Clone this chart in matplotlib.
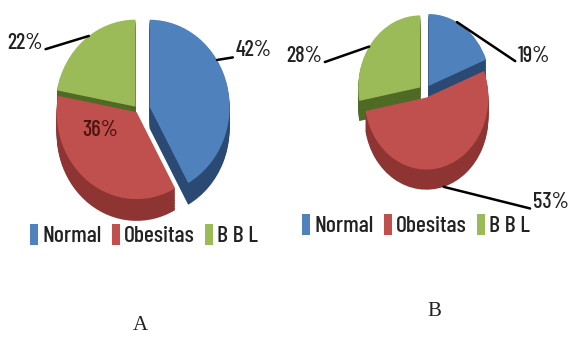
import matplotlib
matplotlib.use('Agg')
import matplotlib.pyplot as plt
from matplotlib.patches import Patch
import numpy as np

# data
labels = ['Normal', 'Obesitas', 'B B L']
values_a = [42, 36, 22]
values_b = [19, 53, 28]
panel_names = ['A', 'B']

top_colors = ['#4F81BD', '#C0504D', '#9BBB59']
side_colors = ['#2A4A74', '#8E3432', '#4F6A25']

W, H = 575, 340
narrow = ['Barlow Condensed', 'Archivo Narrow', 'DejaVu Sans']

fig = plt.figure(figsize=(W / 100, H / 100), dpi=100)

XL = (-1.6, 2.6)
YL = (-1.7, 1.4)


def pie_axes(cx, cy, rx, ry):
    # data radius 1 -> rx / ry pixels around centre (cx, cy), y measured from top
    left = (cx + XL[0] * rx) / W
    bottom = (H - (cy - YL[0] * ry)) / H
    width = (XL[1] - XL[0]) * rx / W
    height = (YL[1] - YL[0]) * ry / H
    ax = fig.add_axes([left, bottom, width, height])
    return ax


def draw_pie(ax, values, explode, depth, steps=14):
    for k in range(steps, 0, -1):
        ax.pie(values, colors=side_colors, startangle=90, counterclock=False,
               explode=explode, center=(0, -depth * k / steps),
               wedgeprops=dict(linewidth=0))
    wedges, _ = ax.pie(values, colors=top_colors, startangle=90,
                       counterclock=False, explode=explode,
                       wedgeprops=dict(linewidth=0))
    ax.set_aspect('auto')
    ax.set_xlim(*XL)
    ax.set_ylim(*YL)
    ax.axis('off')
    return wedges


def anchor(w, depth, frac=0.5):
    # point on the rim of wedge w, frac of the way from theta1 to theta2
    t = np.deg2rad(w.theta1 + frac * (w.theta2 - w.theta1))
    x = w.center[0] + np.cos(t)
    y = w.center[1] + np.sin(t)
    if np.sin(t) < -0.3:
        y -= depth
    return x, y


def leader(ax, txt, w, depth, pos, side, frac=0.5):
    ha = 'right' if side == 'left' else 'left'
    rel = (1, 0.15) if side == 'left' else (0, 0.15)
    ax.annotate(txt, xy=anchor(w, depth, frac), xytext=pos, ha=ha, va='center',
                fontsize=16, family=narrow, weight='medium', color='#222222',
                arrowprops=dict(arrowstyle='-', color='black', lw=1.8,
                                shrinkA=0, shrinkB=0, relpos=rel))


# panel A
depth_a = 0.25
ax_a = pie_axes(138, 110, 80, 87)
wa = draw_pie(ax_a, values_a, [0.15, 0.03, 0.05], depth_a)
leader(ax_a, '%d%%' % values_a[2], wa[2], depth_a, (-1.19, 0.77), 'left', 0.45)
leader(ax_a, '%d%%' % values_a[0], wa[0], depth_a, (1.22, 0.69), 'right', 0.62)
ax_a.text(-0.47, -0.23, '%d%%' % values_a[1], ha='center', va='center',
          fontsize=16, family=narrow, weight='medium', color='#4A1412')

# panel B
depth_b = 0.28
ax_b = pie_axes(425, 92, 62, 72)
wb = draw_pie(ax_b, values_b, [0.1, 0.08, 0.1], depth_b)
leader(ax_b, '%d%%' % values_b[2], wb[2], depth_b, (-1.66, 0.5), 'left', 0.55)
leader(ax_b, '%d%%' % values_b[0], wb[0], depth_b, (1.5, 0.5), 'right', 0.6)
leader(ax_b, '%d%%' % values_b[1], wb[1], depth_b, (1.74, -1.53), 'right')

# legends
handles = [Patch(facecolor=c, edgecolor='none') for c in top_colors]
for lx, ly in [(144, 235), (416, 225)]:
    fig.legend(handles, labels, loc='center', bbox_to_anchor=(lx / W, 1 - ly / H),
               ncol=3, frameon=False, handlelength=0.35, handleheight=1.0,
               handletextpad=0.15, columnspacing=0.45, borderpad=0,
               prop=dict(family=narrow, size=17, weight='medium'),
               labelcolor='#222222')

# panel letters
for name, (lx, ly) in zip(panel_names, [(140, 326), (434, 311)]):
    fig.text(lx / W, 1 - ly / H, name, ha='center', va='center',
             fontsize=15, family=['Liberation Serif', 'DejaVu Serif'],
             color='#222222')

fig.savefig('out.png', dpi=100, facecolor='white')
